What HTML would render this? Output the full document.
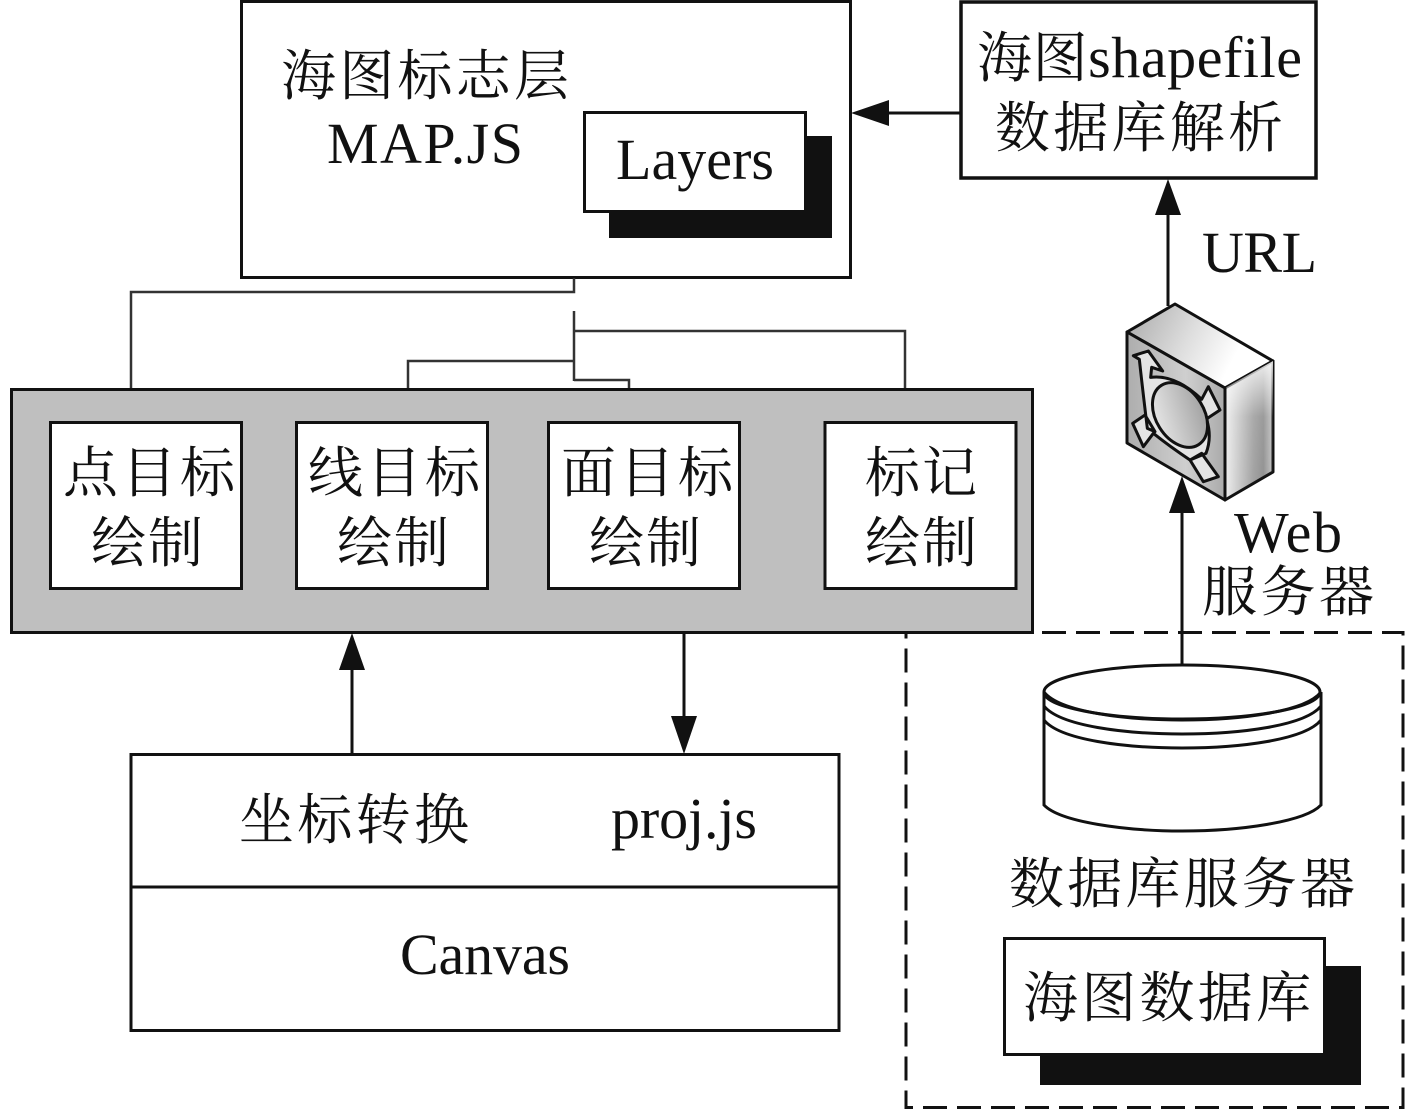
<!DOCTYPE html>
<html><head><meta charset="utf-8"><style>
html,body{margin:0;padding:0;background:#fff}
svg{display:block}
text{font-family:"Liberation Serif","Noto Serif CJK SC",serif;fill:#111;font-size:58px}
text.c{font-size:55px}
.b{fill:#fff;stroke:#111;stroke-width:3}
.l{fill:none;stroke:#111;stroke-width:3}
.t{fill:none;stroke:#333;stroke-width:2.500}
</style></head><body>
<svg width="1417" height="1110" viewBox="0 0 1417 1110" xmlns="http://www.w3.org/2000/svg">
<defs>
<linearGradient id="gt" x1="0" y1="0" x2="1" y2="0.3"><stop offset="0" stop-color="#a8a8a8"/><stop offset="0.5" stop-color="#dedede"/><stop offset="0.85" stop-color="#fff"/></linearGradient>
<linearGradient id="gr" x1="0" y1="0" x2="1" y2="0"><stop offset="0" stop-color="#efefef"/><stop offset="0.6" stop-color="#a0a0a0"/><stop offset="0.8" stop-color="#909090"/><stop offset="1" stop-color="#c4c4c4"/></linearGradient>
<linearGradient id="gv" x1="0" y1="0" x2="0" y2="1"><stop offset="0" stop-color="#fff" stop-opacity="0.85"/><stop offset="0.4" stop-color="#fff" stop-opacity="0.1"/><stop offset="1" stop-color="#fff" stop-opacity="0"/></linearGradient>
<linearGradient id="gf" x1="0" y1="0" x2="1" y2="0"><stop offset="0" stop-color="#adadad"/><stop offset="0.6" stop-color="#cfcfcf"/><stop offset="1" stop-color="#aaa"/></linearGradient>
<linearGradient id="ge" x1="0" y1="0" x2="1" y2="0.4"><stop offset="0" stop-color="#eee"/><stop offset="1" stop-color="#a8a8a8"/></linearGradient>
</defs>

<!-- top-left box -->
<rect class="b" x="241.500" y="1.500" width="609" height="276"/>
<text class="c" x="281" y="95" textLength="288">海图标志层</text>
<text x="327" y="163" textLength="196">MAP.JS</text>
<rect x="609" y="136" width="223" height="102" fill="#111"/>
<rect class="b" x="584.500" y="112.500" width="221" height="99"/>
<text x="616" y="179" textLength="158">Layers</text>

<!-- shapefile box -->
<rect class="b" x="961" y="2" width="355" height="176" style="stroke-width:3.500"/>
<text x="977" y="77" textLength="325"><tspan font-size="55">海图</tspan>shapefile</text>
<text class="c" x="995" y="147" textLength="288">数据库解析</text>
<line class="l" x1="885" y1="113" x2="961" y2="113"/>
<polygon points="851,113 889,100 889,126" fill="#111"/>

<!-- URL -->
<line class="l" x1="1168" y1="210" x2="1168" y2="306"/>
<polygon points="1168,179 1155,215 1181,215" fill="#111"/>
<text x="1202" y="272" textLength="115">URL</text>

<!-- connectors -->
<polyline class="t" points="574,278 574,292 131,292 131,389"/>
<line class="t" x1="574" y1="311" x2="574" y2="381"/>
<polyline class="t" points="574,331 905,331 905,389"/>
<polyline class="t" points="574,361 408,361 408,389"/>
<polyline class="t" points="574,380 629,380 629,389"/>

<!-- gray panel -->
<rect x="11.500" y="389.500" width="1021" height="243" fill="#bfbfbf" stroke="#111" stroke-width="3"/>
<rect class="b" x="50.500" y="422.500" width="191" height="166"/>
<rect class="b" x="296.500" y="422.500" width="191" height="166"/>
<rect class="b" x="548.500" y="422.500" width="191" height="166"/>
<rect class="b" x="825" y="422.500" width="191" height="166"/>
<text class="c" x="63" y="492" textLength="172">点目标</text>
<text class="c" x="91" y="562" textLength="112">绘制</text>
<text class="c" x="308" y="492" textLength="172">线目标</text>
<text class="c" x="337" y="562" textLength="112">绘制</text>
<text class="c" x="561" y="492" textLength="172">面目标</text>
<text class="c" x="589" y="562" textLength="112">绘制</text>
<text class="c" x="865" y="492" textLength="112">标记</text>
<text class="c" x="865" y="562" textLength="112">绘制</text>

<!-- arrows panel/bottom -->
<line class="l" x1="352" y1="665" x2="352" y2="754"/>
<polygon points="352,633 339,670 365,670" fill="#111"/>
<line class="l" x1="684" y1="633" x2="684" y2="720"/>
<polygon points="684,754 671,716 697,716" fill="#111"/>

<!-- bottom-left box -->
<rect class="b" x="131" y="754.500" width="708" height="276"/>
<line class="l" x1="131" y1="887" x2="839" y2="887"/>
<text class="c" x="239" y="839" textLength="230">坐标转换</text>
<text x="611" y="838" textLength="146">proj.js</text>
<text x="400" y="974" textLength="170">Canvas</text>

<!-- dashed region -->
<rect x="906" y="632.500" width="497" height="475" fill="none" stroke="#111" stroke-width="3" stroke-dasharray="24 10"/>

<!-- Web arrow -->
<line class="l" x1="1182" y1="510" x2="1182" y2="666"/>
<polygon points="1182,476 1169,513 1195,513" fill="#111"/>
<text x="1234" y="552" textLength="108">Web</text>
<text class="c" x="1202" y="611" textLength="172">服务器</text>

<!-- server icon -->
<g stroke="#111" stroke-width="3" stroke-linejoin="round">
<polygon points="1175,304 1273,361 1225,388 1127,332" fill="url(#gt)"/>
<polygon points="1225,388 1273,361 1273,472 1225,500" fill="url(#gr)"/>
<polygon points="1225,388 1273,361 1273,472 1225,500" fill="url(#gv)" stroke="none"/>
<polygon points="1127,332 1225,388 1225,500 1127,443" fill="url(#gf)"/>
<g transform="translate(1100 290) scale(.33333)">
<path d="M100,197 L145,183 L188,243 L155,232 L152,262 Q225,252 305,328 L325,290 L360,360 L322,385 L298,340 Q345,420 318,490 L270,510 L310,575 L355,560 L305,490 L270,510 Q210,470 160,430 L130,470 L98,400 L135,375 L165,425 L142,415 Q128,300 118,208 Z" fill="#e4e4e4" stroke-width="9"/>
</g>
<ellipse cx="1180" cy="415" rx="24" ry="35" transform="rotate(-32 1180 415)" fill="url(#ge)" stroke-width="3"/>
</g>

<!-- database -->
<path class="l" d="M1044,692 V805 C1060,822 1125,831 1182,831 C1240,831 1305,822 1321,805 V692" style="fill:#fff"/>
<ellipse class="b" cx="1182" cy="692" rx="138" ry="27"/>
<path class="l" d="M1044,692 C1060,712 1125,720 1182,720 C1240,720 1305,712 1321,692"/>
<path class="l" d="M1044,706 C1060,726 1125,734 1182,734 C1240,734 1305,726 1321,706"/>
<path class="l" d="M1044,720 C1060,740 1125,748 1182,748 C1240,748 1305,740 1321,720"/>
<text class="c" x="1009" y="903" textLength="346">数据库服务器</text>

<!-- 海图数据库 -->
<rect x="1040" y="966" width="321" height="119" fill="#111"/>
<rect class="b" x="1004.500" y="938.500" width="320" height="116"/>
<text class="c" x="1023" y="1017" textLength="288">海图数据库</text>
</svg>
</body></html>
